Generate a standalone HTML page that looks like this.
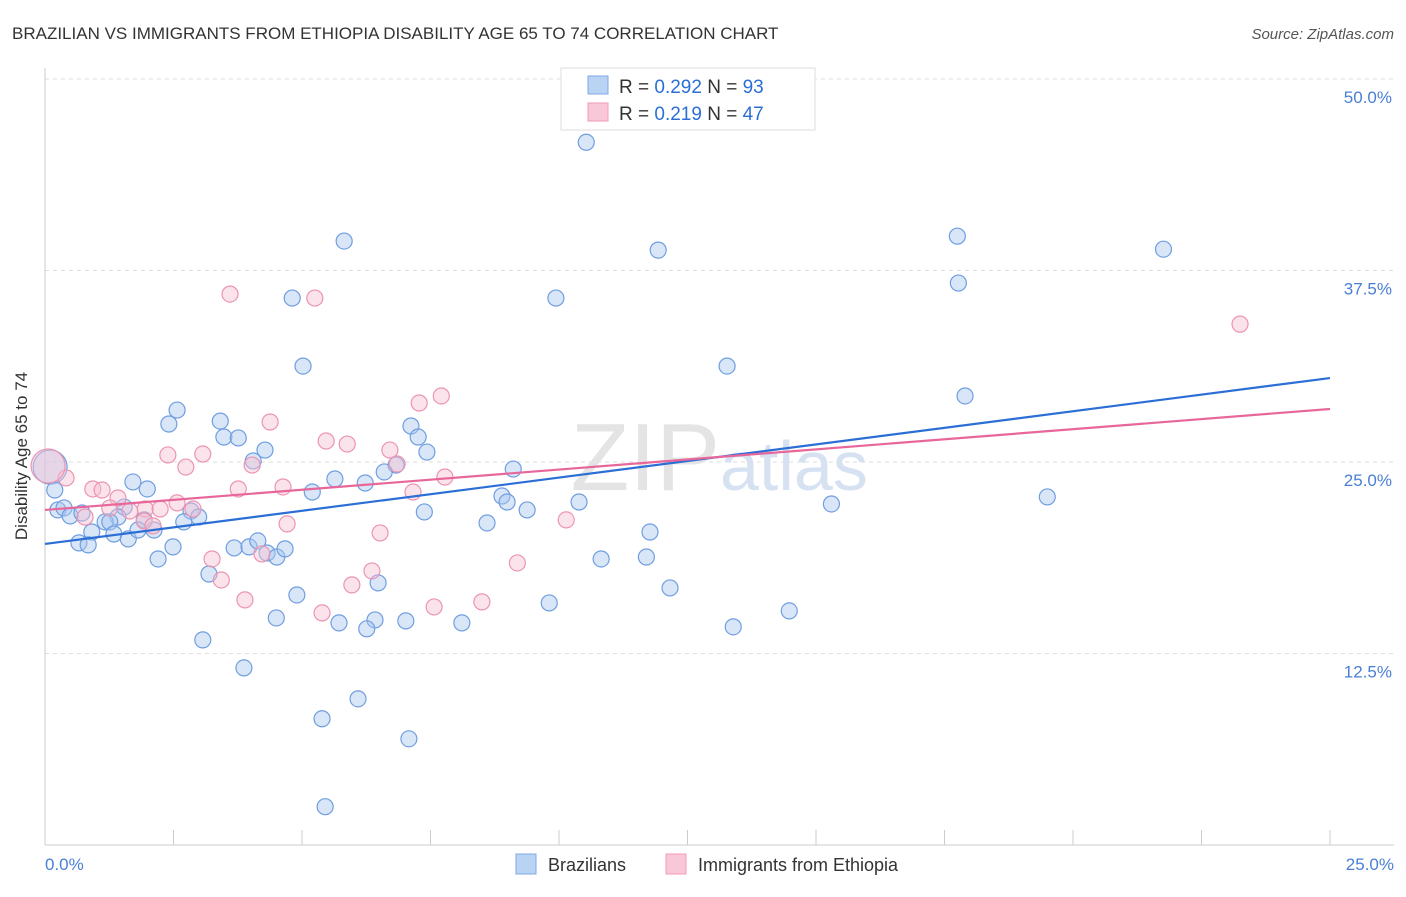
<!DOCTYPE html>
<html><head><meta charset="utf-8"><style>
body{margin:0;background:#fff;font-family:"Liberation Sans",sans-serif}
svg text{font-family:"Liberation Sans",sans-serif}
</style></head><body>
<svg id="chart" width="1406" height="892" xmlns="http://www.w3.org/2000/svg">
<text x="12" y="39" font-size="17" fill="#333">BRAZILIAN VS IMMIGRANTS FROM ETHIOPIA DISABILITY AGE 65 TO 74 CORRELATION CHART</text>
<text x="1394" y="39" font-size="15" fill="#555" text-anchor="end" font-style="italic">Source: ZipAtlas.com</text>
<g id="grid"></g>
<text x="720" y="490" font-size="96" fill="#e4e4e4" text-anchor="end" font-family="Liberation Serif">ZIP</text>
<text x="720" y="490" font-size="70" fill="#d6e2f2">atlas</text>
<line x1="45" y1="68" x2="45" y2="845" stroke="#ccc"/>
<line x1="45" y1="845" x2="1394" y2="845" stroke="#ccc"/>
<g id="xticks"></g>
<text x="27" y="456" font-size="17" fill="#333" text-anchor="middle" transform="rotate(-90 27 456)">Disability Age 65 to 74</text>
<text x="45" y="870" font-size="17" fill="#4a7fd4">0.0%</text>
<text x="1394" y="870" font-size="17" fill="#4a7fd4" text-anchor="end">25.0%</text>
<g id="pts"></g>
<g id="lines"></g>
<g>
<rect x="561" y="68" width="254" height="62" fill="#fff" stroke="#ddd"/>
<rect x="588" y="76" width="20" height="18" fill="#b9d3f3" stroke="#7ea9e6"/>
<rect x="588" y="103" width="20" height="18" fill="#f9c8d8" stroke="#ef9ab7"/>
<text x="619" y="93" font-size="19" fill="#333">R = <tspan fill="#2b6fd6">0.292</tspan>   N = <tspan fill="#2b6fd6">93</tspan></text>
<text x="619" y="120" font-size="19" fill="#333">R =  <tspan fill="#2b6fd6">0.219</tspan>   N = <tspan fill="#2b6fd6">47</tspan></text>
</g>
<g>
<rect x="516" y="854" width="20" height="20" fill="#b9d3f3" stroke="#7ea9e6"/>
<text x="548" y="871" font-size="18" fill="#333">Brazilians</text>
<rect x="666" y="854" width="20" height="20" fill="#f9c8d8" stroke="#ef9ab7"/>
<text x="698" y="871" font-size="18" fill="#333">Immigrants from Ethiopia</text>
</g>
</svg>
<script>
const yTicks=[12.5,25,37.5,50];
const yTickLabels=["12.5%","25.0%","37.5%","50.0%"];
const xTickCount=10;
const blueX=[10.53,5.82,11.93,17.75,21.76,17.77,4.81,9.94,5.02,13.27,17.90,2.57,2.41,3.41,7.12,3.48,3.76,7.26,4.28,7.43,4.05,6.83,6.60,9.11,5.64,6.23,1.71,1.99,5.20,8.89,8.99,10.39,9.38,19.50,15.30,7.38,0.25,0.37,0.49,0.72,1.54,1.42,1.17,1.26,2.84,2.99,1.93,2.70,8.60,0.91,1.34,1.62,1.81,2.12,0.66,0.84,11.77,2.49,3.68,3.97,4.14,4.32,4.51,4.67,10.82,11.70,2.20,3.19,6.48,12.16,4.90,9.81,14.48,4.50,5.72,6.42,6.26,7.02,8.11,13.39,3.07,3.87,6.09,5.39,7.08,5.45,0.10,0.19];
const blueY=[45.87,39.42,38.83,39.74,38.89,36.68,35.70,35.70,31.26,31.26,29.31,28.39,27.48,27.67,27.35,26.63,26.57,26.63,25.78,25.65,25.07,24.80,24.35,24.54,23.89,23.63,23.70,23.24,23.04,22.78,22.39,22.39,21.87,22.72,22.26,21.74,21.87,22.00,21.48,21.67,22.06,21.41,21.09,21.09,21.80,21.41,21.22,21.09,21.02,20.43,20.30,19.98,20.56,20.56,19.72,19.59,20.43,19.46,19.39,19.46,19.85,19.06,18.80,19.33,18.67,18.80,18.67,17.69,17.11,16.78,16.32,15.80,15.28,14.82,14.50,14.69,14.11,14.63,14.50,14.24,13.39,11.56,9.54,8.24,6.93,2.50,24.67,23.17];
const blueSize=[];
const pinkX=[3.60,5.25,23.25,7.71,7.28,4.38,5.47,5.88,2.39,3.07,6.71,4.03,6.85,2.74,0.41,7.78,0.93,1.11,3.76,4.63,7.16,1.42,2.57,1.26,1.65,1.95,2.24,2.88,0.78,1.93,2.10,10.14,4.71,6.52,3.25,4.22,9.19,6.36,3.43,5.97,3.89,7.57,8.50,5.39,0.06];
const pinkY=[35.96,35.70,34.00,29.31,28.85,27.61,26.37,26.17,25.46,25.52,25.78,24.80,24.87,24.67,23.96,24.02,23.24,23.17,23.24,23.37,23.04,22.65,22.33,22.00,21.80,21.93,21.93,21.93,21.41,21.15,20.83,21.22,20.96,20.37,18.67,19.00,18.41,17.89,17.30,16.98,16.00,15.54,15.87,15.15,24.74];
const blueTrend=[19.65,30.48];
const pinkTrend=[21.87,28.46];
const NS="http://www.w3.org/2000/svg";
const xs=v=>45+v/25*1285;
const ys=v=>462-(v-25)/12.5*191.5;
function mk(t,a,p){const e=document.createElementNS(NS,t);for(const k in a)e.setAttribute(k,a[k]);p.appendChild(e);return e;}
const grid=document.getElementById('grid');
yTicks.forEach((t,i)=>{
 const l=mk('line',{x1:45,x2:1394,y1:ys(t),y2:ys(t),stroke:'#ddd','stroke-dasharray':'4,4'},grid);
 
 
 const tx=mk('text',{x:1392,y:ys(t)+24,'font-size':17,fill:'#4a7fd4','text-anchor':'end'},grid);
 tx.textContent=yTickLabels[i];
 
 
});
const xt=document.getElementById('xticks');
for(let i=0;i<=xTickCount;i++){
 const x=xs(25*i/xTickCount);
 const l=mk('line',{x1:x,x2:x,y1:830,y2:845,stroke:'#ccc'},xt);
 
 
}
const pts=document.getElementById('pts');
function dots(X,Y,fill,stroke,name){
 X.forEach((v,i)=>{
  const big=(v<0.3&&Math.abs(Y[i]-24.7)<0.2);
  const c=mk('circle',{cx:xs(v),cy:ys(Y[i]),r:big?17:8,fill:fill,stroke:stroke,'stroke-width':1.2,'fill-opacity':0.45},pts);
  
  
 });
}
dots(blueX,blueY,'#a9c8f0','#6f9ee0','point-brazilians');
dots(pinkX,pinkY,'#f7c0d2','#ec94b2','point-ethiopia');
const lg=document.getElementById('lines');
const bl=mk('line',{x1:xs(0),y1:ys(blueTrend[0]),x2:xs(25),y2:ys(blueTrend[1]),stroke:'#2b6fd6','stroke-width':2.2},lg);


const pl=mk('line',{x1:xs(0),y1:ys(pinkTrend[0]),x2:xs(25),y2:ys(pinkTrend[1]),stroke:'#e8679a','stroke-width':2.2},lg);


</script>
</body></html>
